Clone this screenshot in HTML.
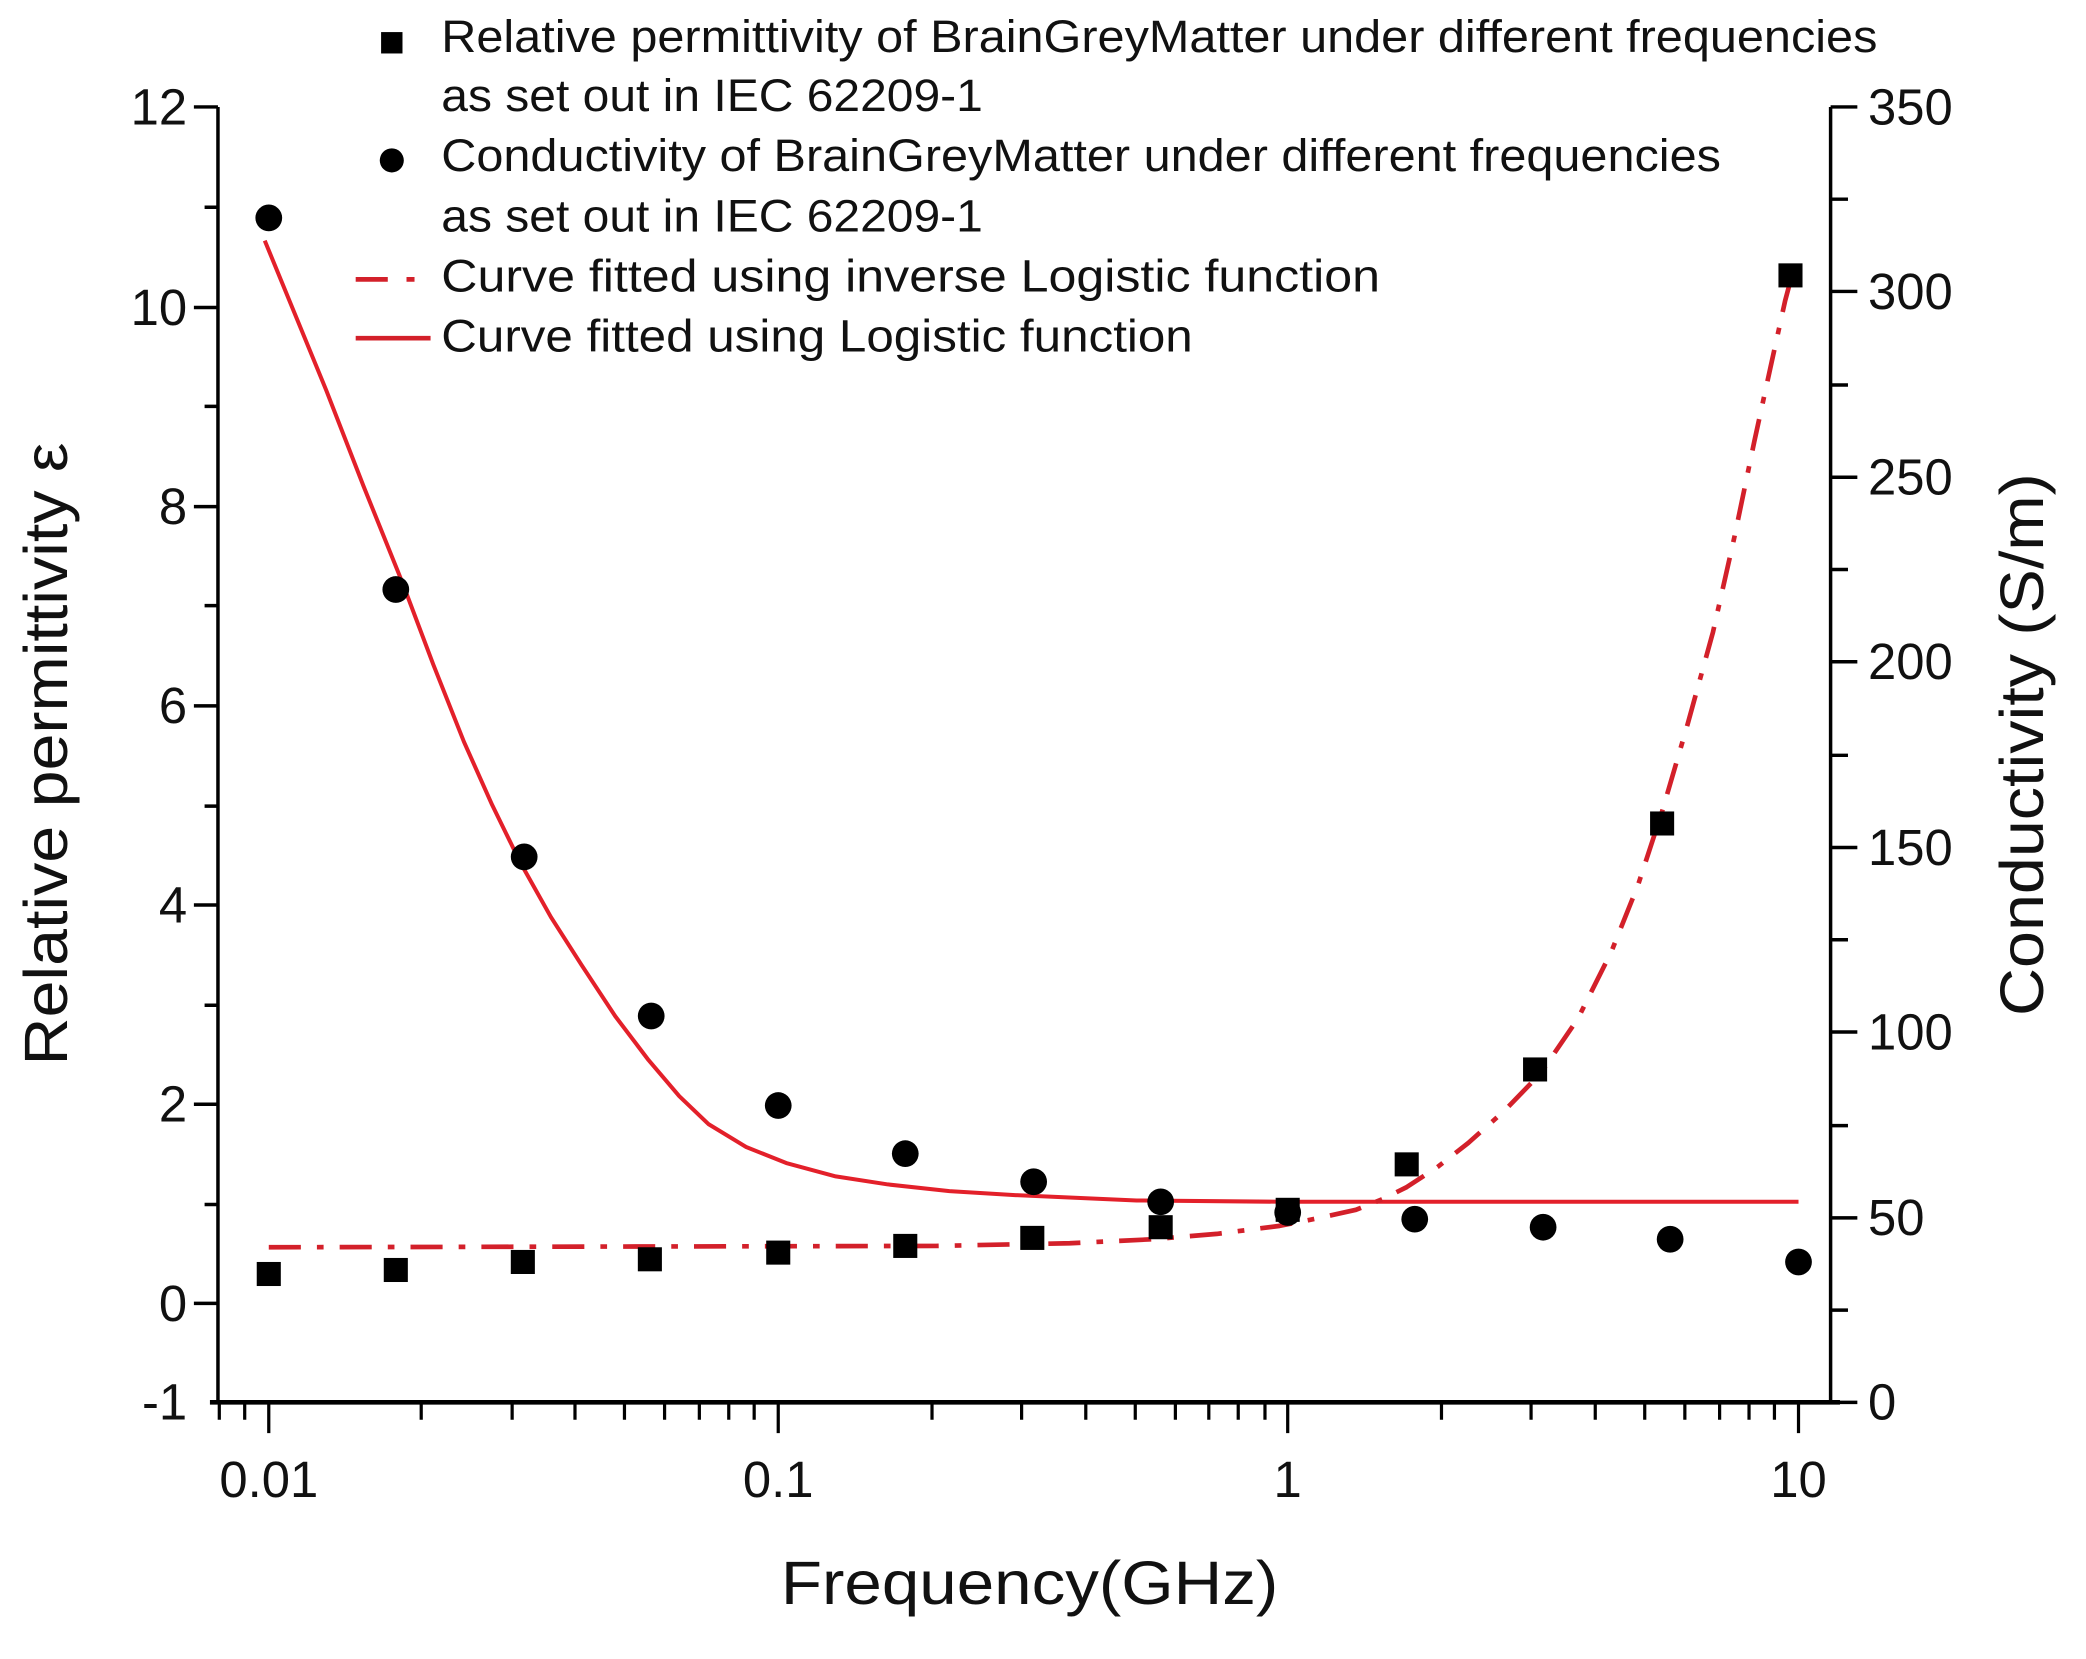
<!DOCTYPE html>
<html><head><meta charset="utf-8"><style>html,body{margin:0;padding:0;background:#fff}svg{display:block}</style></head><body>
<svg width="2086" height="1659" viewBox="0 0 1560 1241" preserveAspectRatio="none" xmlns="http://www.w3.org/2000/svg" font-family="Liberation Sans, Arial, sans-serif">
<rect width="1560" height="1241" fill="#fff"/>
<g stroke="#000" stroke-width="2.6" fill="none">
<line x1="163" y1="80" x2="163" y2="1049"/>
<line x1="1369" y1="80" x2="1369" y2="1049"/>
<line x1="157" y1="1049" x2="1376" y2="1049" stroke-width="3.5"/>
<path d="M145 80H163M145 230H163M145 379H163M145 528H163M145 677H163M145 826H163M145 975H163
M153 155H163M153 304H163M153 453H163M153 603H163M153 752H163M153 901H163"/>
<path d="M1369 80H1389M1369 218H1389M1369 357H1389M1369 495H1389M1369 634H1389M1369 772H1389M1369 911H1389M1369 1049H1389
M1369 149H1382M1369 288H1382M1369 426H1382M1369 565H1382M1369 703H1382M1369 842H1382M1369 980H1382"/>
</g>
<g font-size="38" fill="#111" text-anchor="end">
<text x="140" y="93">12</text><text x="140" y="243">10</text><text x="140" y="392">8</text><text x="140" y="541">6</text><text x="140" y="690">4</text><text x="140" y="839">2</text><text x="140" y="988">0</text><text x="140" y="1062">-1</text>
</g>
<g font-size="38" fill="#111" text-anchor="start">
<text x="1397" y="93">350</text><text x="1397" y="231">300</text><text x="1397" y="370">250</text><text x="1397" y="508">200</text><text x="1397" y="647">150</text><text x="1397" y="785">100</text><text x="1397" y="924">50</text><text x="1397" y="1062">0</text>
</g>
<g font-size="38" fill="#111" text-anchor="middle">
<text x="201" y="1120">0.01</text><text x="582" y="1120">0.1</text><text x="963" y="1120">1</text><text x="1345" y="1120">10</text>
</g>
<text x="770" y="1200" font-size="46" text-anchor="middle" fill="#111" textLength="372" lengthAdjust="spacingAndGlyphs">Frequency(GHz)</text>
<text transform="translate(50,564) rotate(-90)" font-size="46" text-anchor="middle" fill="#111" textLength="466" lengthAdjust="spacingAndGlyphs">Relative permittivity ε</text>
<text transform="translate(1528,557) rotate(-90)" font-size="46" text-anchor="middle" fill="#111" textLength="406" lengthAdjust="spacingAndGlyphs">Conductivity (S/m)</text>
<g font-size="34" fill="#111">
<text x="330" y="39" textLength="1074" lengthAdjust="spacingAndGlyphs">Relative permittivity of BrainGreyMatter under different frequencies</text>
<text x="330" y="83" textLength="405" lengthAdjust="spacingAndGlyphs">as set out in IEC 62209-1</text>
<text x="330" y="128" textLength="957" lengthAdjust="spacingAndGlyphs">Conductivity of BrainGreyMatter under different frequencies</text>
<text x="330" y="173" textLength="405" lengthAdjust="spacingAndGlyphs">as set out in IEC 62209-1</text>
<text x="330" y="218" textLength="702" lengthAdjust="spacingAndGlyphs">Curve fitted using inverse  Logistic function</text>
<text x="330" y="263" textLength="562" lengthAdjust="spacingAndGlyphs">Curve fitted using Logistic function</text>
</g>
<rect x="285" y="24" width="16" height="16" fill="#000"/>
<circle cx="293" cy="120" r="9" fill="#000"/>
<path d="M266 209H290M304 209H310" stroke="#d3202a" stroke-width="3.5"/>
<path d="M266 253H322" stroke="#d3202a" stroke-width="3.5"/>
<path d="M198 180 L221 236 L244 292 L272 364 L301 436 L324 497 L347 555 L368 602 L389 645 L412 686 L435 722 L460 760 L485 793 L508 820 L530 841 L558 858 L588 870 L625 880 L664 886 L710 891 L759 894 L850 898 L960 899 L1345 899" fill="none" stroke="#e3202a" stroke-width="3" stroke-linejoin="round"/>
<path d="M201 933 L700 932 L800 930 L862 927 L910 923 L957 917 L987 911 L1014 905 L1034 897 L1052 888 L1075 873 L1098 855 L1125 831 L1152 803 L1180 762 L1205 712 L1225 662 L1243 607 L1262 542 L1281 473 L1297 402 L1312 330 L1324 275 L1335 225 L1339 210" fill="none" stroke="#d3202a" stroke-width="3.5" stroke-dasharray="24,12,5,12" stroke-linejoin="round"/>
<g fill="#000">
<rect x="192" y="944" width="18" height="18"/><rect x="287" y="941" width="18" height="18"/><rect x="382" y="935" width="18" height="18"/><rect x="477" y="933" width="18" height="18"/><rect x="573" y="928" width="18" height="18"/><rect x="668" y="923" width="18" height="18"/><rect x="763" y="917" width="18" height="18"/><rect x="859" y="909" width="18" height="18"/><rect x="954" y="896" width="18" height="18"/><rect x="1043" y="862" width="18" height="18"/><rect x="1139" y="791" width="18" height="18"/><rect x="1234" y="607" width="18" height="18"/><rect x="1330" y="197" width="18" height="18"/>
</g>
<g fill="#000">
<circle cx="201" cy="163" r="10"/><circle cx="296" cy="441" r="10"/><circle cx="392" cy="641" r="10"/><circle cx="487" cy="760" r="10"/><circle cx="582" cy="827" r="10"/><circle cx="677" cy="863" r="10"/><circle cx="773" cy="884" r="10"/><circle cx="868" cy="899" r="10"/><circle cx="963" cy="907" r="10"/><circle cx="1058" cy="912" r="10"/><circle cx="1154" cy="918" r="10"/><circle cx="1249" cy="927" r="10"/><circle cx="1345" cy="944" r="10"/>
</g>
<g stroke="#000" stroke-width="2.4">
<path d="M201 1049V1072M582 1049V1072M963 1049V1072M1345 1049V1072"/>
<path d="M164 1049V1062M183 1049V1062
M315 1049V1062M383 1049V1062M430 1049V1062M467 1049V1062M497 1049V1062M523 1049V1062M545 1049V1062M564 1049V1062
M697 1049V1062M764 1049V1062M812 1049V1062M849 1049V1062M879 1049V1062M904 1049V1062M926 1049V1062M946 1049V1062
M1078 1049V1062M1145 1049V1062M1193 1049V1062M1230 1049V1062M1260 1049V1062M1286 1049V1062M1308 1049V1062M1327 1049V1062"/>
</g>
</svg>
</body></html>
